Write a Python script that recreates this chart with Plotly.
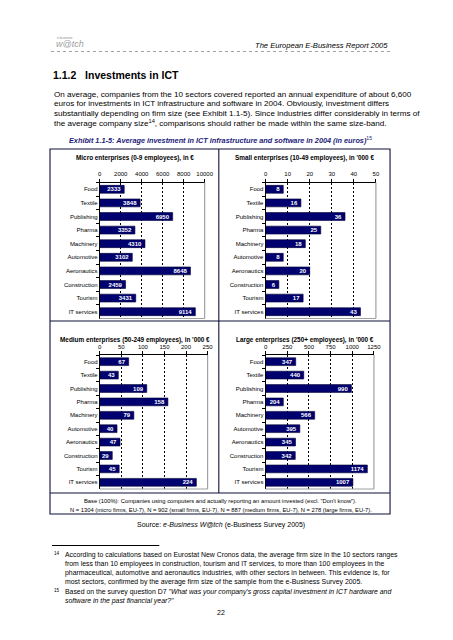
import plotly.graph_objects as go

# ---------------- data ----------------
categories = ["Food", "Textile", "Publishing", "Pharma", "Machinery", "Automotive",
              "Aeronautics", "Construction", "Tourism", "IT services"]
micro_values = [2333, 3848, 6950, 3352, 4310, 3102, 8648, 2459, 3431, 9114]
small_values = [8, 16, 36, 25, 18, 8, 20, 6, 17, 43]
medium_values = [67, 43, 109, 158, 79, 40, 47, 29, 45, 224]
large_values = [347, 440, 990, 204, 566, 395, 345, 342, 1174, 1007]

micro_ticks = [0, 2000, 4000, 6000, 8000, 10000]
small_ticks = [0, 10, 20, 30, 40, 50]
medium_ticks = [0, 50, 100, 150, 200, 250]
large_ticks = [0, 250, 500, 750, 1000, 1250]

panel_titles = ["Micro enterprises (0-9 employees), in €",
                "Small enterprises (10-49 employees), in '000 €",
                "Medium enterprises (50-249 employees), in '000 €",
                "Large enterprises (250+ employees), in '000 €"]

W, H = 453, 640
FONT = "Liberation Sans, Arial, sans-serif"
NAVY = "#00006e"


def px(x):
    return x / W


def py(y):
    return 1 - y / H


fig = go.Figure()

panels = [
    (micro_values, micro_ticks, (92, 199.5), (174.5, 310.5), 128, 150),
    (small_values, small_ticks, (262, 375), (174.5, 310.5), 302, 150),
    (medium_values, medium_ticks, (92, 202.5), (347, 481), 128, 332),
    (large_values, large_ticks, (262, 373), (347, 481), 302, 332),
]

annotations = []
shapes = []

for i, (vals, ticks, xr, yr, tx, ty) in enumerate(panels):
    n = "" if i == 0 else str(i + 1)
    fig.add_trace(go.Bar(
        x=vals, y=categories, orientation="h",
        xaxis="x" + n, yaxis="y" + n,
        marker=dict(color=NAVY, line=dict(color="#000033", width=0.6)),
        width=0.58,
        text=[f"<b>{v}</b>" for v in vals],
        textposition="inside", insidetextanchor="end", textangle=0,
        constraintext="none",
        textfont=dict(color="white", size=6, family=FONT),
        cliponaxis=False, showlegend=False, hoverinfo="skip",
    ))
    fig.layout["xaxis" + n] = dict(
        domain=[px(xr[0]), px(xr[1])], anchor="y" + n, side="top",
        range=[0, ticks[-1]], tickvals=ticks, ticktext=[str(t) for t in ticks],
        showline=True, linecolor="black", linewidth=1,
        ticks="outside", ticklen=3, tickcolor="black", tickwidth=1,
        showgrid=True, gridcolor="black", griddash="2px,2px", gridwidth=1,
        zeroline=False, fixedrange=True,
        tickfont=dict(size=6, family=FONT, color="black"),
    )
    fig.layout["yaxis" + n] = dict(
        domain=[py(yr[1]), py(yr[0])], anchor="x" + n,
        autorange="reversed", type="category",
        showline=True, linecolor="black", linewidth=1,
        ticks="outside", ticklen=3, tickcolor="black", tickson="boundaries",
        showgrid=False, zeroline=False, fixedrange=True,
        tickfont=dict(size=6, family=FONT, color="black"),
    )
    # grey right and bottom frame of plot area
    shapes.append(dict(type="line", xref="x" + n + " domain", yref="y" + n + " domain",
                       x0=1, x1=1, y0=0, y1=1, line=dict(color="#a0a0a0", width=1.2), layer="above"))
    shapes.append(dict(type="line", xref="x" + n + " domain", yref="y" + n + " domain",
                       x0=0, x1=1, y0=0, y1=0, line=dict(color="#a0a0a0", width=1.2), layer="above"))
    annotations.append(dict(xref="paper", yref="paper", x=px(tx), y=py(ty),
                            text="<b>" + panel_titles[i] + "</b>", showarrow=False,
                            xanchor="center", yanchor="middle",
                            font=dict(size=6.4, family=FONT, color="black")))

# ---------- page frame / box lines ----------
def line(x0, y0, x1, y1, color="black", width=1, dash="solid"):
    shapes.append(dict(type="line", xref="paper", yref="paper",
                       x0=px(x0), y0=py(y0), x1=px(x1), y1=py(y1),
                       line=dict(color=color, width=width, dash=dash)))

shapes.append(dict(type="rect", xref="paper", yref="paper",
                   x0=px(41), x1=px(389.5), y0=py(506), y1=py(141),
                   line=dict(color="#10103a", width=1.1)))
line(214, 141, 214, 485, "#10103a", 1.1)
line(41, 313, 389.5, 313, "#10103a", 1.1)
line(41, 485, 389.5, 485, "#10103a", 1.1)
line(42, 43.5, 390, 43.5, "#8a8a8a", 0.8, "dot")
line(43, 537.5, 153, 537.5, "black", 1)


def txt(x, y, s, size, anchor="left", color="black", **kw):
    annotations.append(dict(xref="paper", yref="paper", x=px(x), y=py(y), text=s,
                            showarrow=False, xanchor=anchor, yanchor="middle",
                            font=dict(size=size, family=FONT, color=color), **kw))


# header
txt(46, 30.5, "e-business", 3.2, color="#8a8a8a")
txt(45, 36.5, "<i>w@tch</i>", 9, color="#a0a0a0")
txt(389, 38, "<i>The European E-Business Report 2005</i>", 7.6, anchor="right")

# heading
txt(42, 67, "<b>1.1.2\u00a0\u00a0\u00a0Investments in ICT</b>", 10.5)

# paragraph
para = [
    "On average, companies from the 10 sectors covered reported an annual expenditure of about 6,600",
    "euros for investments in ICT infrastructure and software in 2004. Obviously, investment differs",
    "substantially depending on firm size (see Exhibit 1.1-5). Since industries differ considerably in terms of",
    "the average company size<sup>14</sup>, comparisons should rather be made within the same size-band.",
]
for k, s in enumerate(para):
    txt(43, 86 + k * 9.7, s, 8.1)

# exhibit title
txt(216, 132, "<b><i>Exhibit 1.1-5: Average investment in ICT infrastructure and software in 2004 (in euros)</i></b><sup>15</sup>",
    7.3, anchor="center", color="#1c1c78")

# base text
txt(216, 493, "Base (100%): Companies using computers and actually reporting an amount invested (excl. \"Don't know\").",
    5.8, anchor="center")
txt(216, 502, "N = 1304 (micro firms, EU-7), N = 902 (small firms, EU-7), N = 887 (medium firms, EU-7), N = 278 (large firms, EU-7).",
    5.8, anchor="center")

# source
txt(216, 517, "Source: <i>e-Business W@tch</i> (e-Business Survey 2005)", 7, anchor="center")

# footnotes
txt(43, 545, "14", 4.6)
fn14 = [
    "According to calculations based on Eurostat New Cronos data, the average firm size in the 10 sectors ranges",
    "from less than 10 employees in construction, tourism and IT services, to more than 100 employees in the",
    "pharmaceutical, automotive and aeronautics industries, with other sectors in between. This evidence is, for",
    "most sectors, confirmed by the average firm size of the sample from the e-Business Survey 2005.",
]
for k, s in enumerate(fn14):
    txt(54, 546.5 + k * 9.1, s, 6.9)
txt(43, 582, "15", 4.6)
txt(54, 583.5, "Based on the survey question D7 <i>\"What was your company's gross capital investment in ICT hardware and</i>", 6.9)
txt(54, 592.6, "<i>software in the past financial year?\"</i>", 6.9)

# page number
txt(216, 604, "22", 7, anchor="center")

fig.update_layout(
    width=W, height=H, margin=dict(l=0, r=0, t=0, b=0),
    paper_bgcolor="white", plot_bgcolor="white",
    font=dict(family=FONT, color="black"),
    bargap=0.42,
    annotations=annotations, shapes=shapes,
)

fig.write_html("out.html")
